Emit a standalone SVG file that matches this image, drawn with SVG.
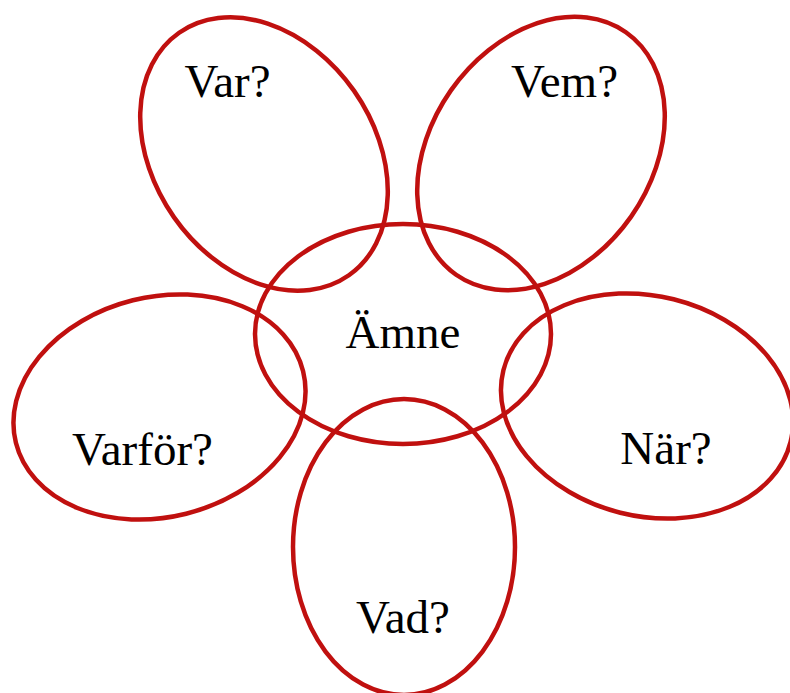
<svg xmlns="http://www.w3.org/2000/svg" width="790" height="693" viewBox="0 0 790 693">
<style>
.petal{fill:none;stroke:#c0100f;stroke-width:4.5}
.lbl{font-family:"Liberation Serif","DejaVu Serif",serif;font-size:47px;fill:#000;text-anchor:middle}
</style>
<rect width="790" height="693" fill="#fff"/>
<g id="connectors"></g>
<g id="var"><ellipse class="petal" cx="264" cy="154" rx="148" ry="110" transform="rotate(55 264 154)"/><text class="lbl" x="227.5" y="97">Var?</text></g>
<g id="vem"><ellipse class="petal" cx="541" cy="153.5" rx="148" ry="110" transform="rotate(-55 541 153.5)"/><text class="lbl" x="564.5" y="97">Vem?</text></g>
<g id="varfor"><ellipse class="petal" cx="159.5" cy="407" rx="148" ry="110" transform="rotate(-14 159.5 407)"/><text class="lbl" x="142.5" y="465">Varför?</text></g>
<g id="nar"><ellipse class="petal" cx="647" cy="406" rx="148" ry="110" transform="rotate(14 647 406)"/><text class="lbl" x="666" y="464">När?</text></g>
<g id="vad"><ellipse class="petal" cx="404" cy="547" rx="111" ry="148"/><text class="lbl" x="403" y="633">Vad?</text></g>
<g id="amne"><ellipse class="petal" cx="403" cy="334" rx="148" ry="110"/><text class="lbl" x="403" y="348">Ämne</text></g>
</svg>
